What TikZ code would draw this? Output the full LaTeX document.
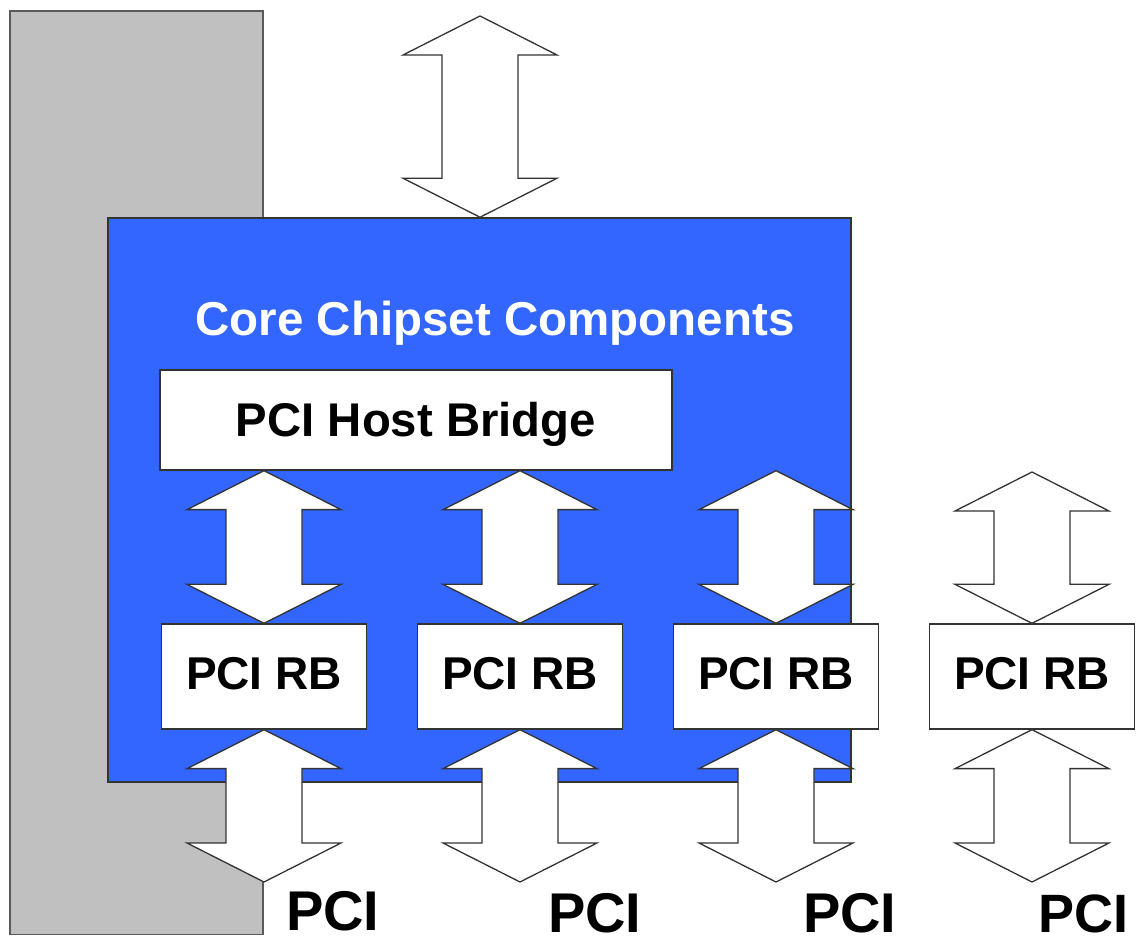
\documentclass[tikz,border=0pt]{standalone}
\usepackage{fontspec}
\setmainfont{Liberation Sans}
\usetikzlibrary{calc}
\definecolor{coreblue}{HTML}{3366FF}
\definecolor{barfill}{HTML}{C0C0C0}
\definecolor{baredge}{HTML}{5A5A5A}
\definecolor{lineclr}{HTML}{333333}
\tikzset{
  graybar/.style={fill=barfill, draw=baredge, line width=1.5pt, inner sep=0pt, anchor=south west},
  corebox/.style={fill=coreblue, draw=lineclr, line width=1.5pt, inner sep=0pt},
  whitebox/.style={draw=lineclr, fill=white, line width=1.3pt, inner sep=0pt,
     font=\fontsize{46}{50}\selectfont\bfseries},
  rbbox/.style={whitebox, minimum width=205, minimum height=105, text height=33pt, text depth=6pt},
  dblarrow/.style={draw=lineclr, fill=white, line width=1.3pt, line join=miter},
  pcilabel/.style={anchor=base west, inner sep=0pt, font=\fontsize{56}{60}\selectfont\bfseries},
  titletext/.style={anchor=base, inner sep=0pt, text=white, font=\fontsize{47.5}{50}\selectfont\bfseries}
}
\newcommand\blockarrow[2]{%
  \path[dblarrow] let \p1=#1, \p2=#2 in
   (\x1,\y1) -- (\x1+77,\y1-39) -- (\x1+38,\y1-39) -- (\x1+38,\y2+39)
   -- (\x1+77,\y2+39) -- (\x1,\y2) -- (\x1-77,\y2+39) -- (\x1-38,\y2+39)
   -- (\x1-38,\y1-39) -- (\x1-77,\y1-39) -- cycle;}
\begin{document}
\begin{tikzpicture}[x=1pt,y=1pt]
\useasboundingbox[fill=white] (0,0) rectangle (1138,943);
% gray side bar
\node[graybar, minimum width=253, minimum height=923] (bar) at (9,8) {};
% core chipset box
\node[corebox, minimum width=743, minimum height=564] (core) at (479.5,443) {};
\node[titletext] (title) at (495,607) {Core Chipset Components};
% host bridge
\node[whitebox, minimum width=512, minimum height=100, text height=34pt, text depth=0pt,
      font=\fontsize{47.3}{50}\selectfont\bfseries] (hb) at (416,523) {PCI Host Bridge};
% free ends
\coordinate (top) at (480,927);
\coordinate (t4) at (1032,471);
\coordinate (e1) at (264,61);
\coordinate (e2) at (520,61);
\coordinate (e3) at (776,61);
\coordinate (e4) at (1032,61);
% RB boxes
\node[rbbox] (rb1) at (264,266.5) {PCI RB};
\node[rbbox] (rb2) at (520,266.5) {PCI RB};
\node[rbbox] (rb3) at (776,266.5) {PCI RB};
\node[rbbox] (rb4) at (1032,266.5) {PCI RB};
% arrows
\blockarrow{(top)}{(top |- core.north)}
\blockarrow{(rb1 |- hb.south)}{(rb1.north)}
\blockarrow{(rb2 |- hb.south)}{(rb2.north)}
\blockarrow{(rb3 |- hb.south)}{(rb3.north)}
\blockarrow{(t4)}{(rb4.north)}
\blockarrow{(rb1.south)}{(e1)}
\blockarrow{(rb2.south)}{(e2)}
\blockarrow{(rb3.south)}{(e3)}
\blockarrow{(rb4.south)}{(e4)}
% PCI labels
\node[pcilabel] (pci1) at (286,13) {PCI};
\node[pcilabel] (pci2) at (548,11) {PCI};
\node[pcilabel] (pci3) at (803,11) {PCI};
\node[pcilabel, font=\fontsize{54}{58}\selectfont\bfseries] (pci4) at (1038,11) {PCI};
\end{tikzpicture}
\end{document}
